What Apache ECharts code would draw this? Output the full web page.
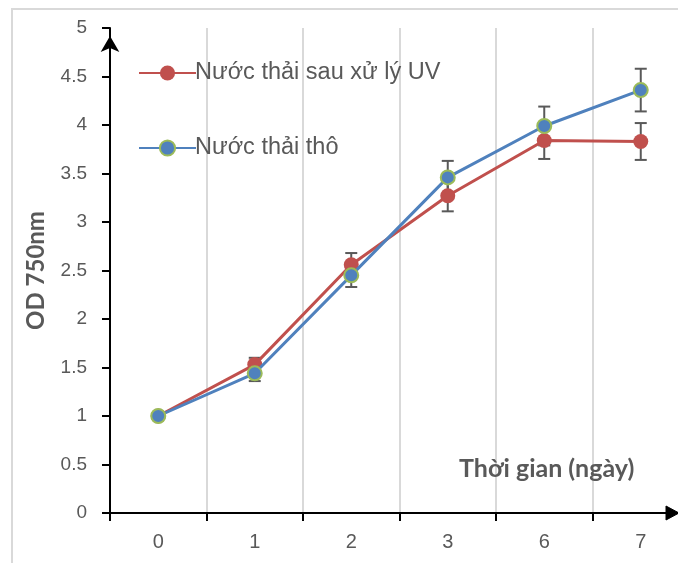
<!DOCTYPE html>
<html>
<head>
<meta charset="utf-8">
<script src="https://cdn.jsdelivr.net/npm/echarts@6/dist/echarts.min.js"></script>
<style>html,body{margin:0;padding:0;background:#fff;overflow:hidden;width:678px;height:563px;}#c{width:690px;height:563px;}</style>
</head>
<body>
<div id="c"></div>
<script>
const categories = ['0', '1', '2', '3', '6', '7'];
const uvName = 'Nước thải sau xử lý UV';
const rawName = 'Nước thải thô';
const uvValues = [1.00, 1.53, 2.56, 3.27, 3.84, 3.83];
const uvErrors = [0, 0.07, 0.12, 0.16, 0.19, 0.19];
const rawValues = [1.00, 1.44, 2.45, 3.46, 3.99, 4.36];
const rawErrors = [0, 0.08, 0.12, 0.17, 0.20, 0.22];
const yMin = 0, yMax = 5, yStep = 0.5;
const yTitle = 'OD 750nm';
const xTitle = 'Thời gian (ngày)';

const FONT = "'Liberation Sans', Arial, sans-serif";
const BOLD = "Lato, 'Open Sans', 'Noto Sans', sans-serif";
const GRAY = '#595959';
const RED = '#c0504d';
const BLUE = '#4f81bd';
const VIEW_W = 678;

function errSeries(name, vals, errs, z) {
  return {
    type: 'custom',
    name: name + ' err',
    z: z,
    silent: true,
    encode: { x: 0, y: 1 },
    data: vals.map((v, i) => [i, v, errs[i]]),
    renderItem: function (params, api) {
      const i = api.value(0), v = api.value(1), e = api.value(2);
      if (!e) return { type: 'group', children: [] };
      const t = api.coord([i, v + e]);
      const b = api.coord([i, v - e]);
      const hw = 6;
      const st = { stroke: GRAY, lineWidth: 2 };
      return {
        type: 'group',
        children: [
          { type: 'line', shape: { x1: t[0], y1: t[1], x2: b[0], y2: b[1] }, style: st },
          { type: 'line', shape: { x1: t[0] - hw, y1: t[1], x2: t[0] + hw, y2: t[1] }, style: st },
          { type: 'line', shape: { x1: b[0] - hw, y1: b[1], x2: b[0] + hw, y2: b[1] }, style: st }
        ]
      };
    }
  };
}

const chart = echarts.init(document.getElementById('c'), null, { renderer: 'canvas' });
chart.setOption({
  animation: false,
  backgroundColor: '#fff',
  grid: { left: 110, top: 28, width: 579, bottom: 50, containLabel: false },
  legend: {
    orient: 'vertical',
    left: 133,
    top: 54,
    itemWidth: 57,
    itemHeight: 19,
    itemGap: 47,
    data: [uvName, rawName],
    textStyle: { fontFamily: FONT, fontSize: 23.5, color: GRAY, lineHeight: 28, padding: [0, 0, 0, -6] }
  },
  xAxis: {
    type: 'category',
    data: categories,
    boundaryGap: true,
    axisLine: { lineStyle: { color: '#000', width: 2 } },
    axisTick: { show: true, length: 8, lineStyle: { color: '#000', width: 2 } },
    axisLabel: { fontFamily: FONT, fontSize: 20, color: GRAY, margin: 19 },
    splitLine: { show: true, lineStyle: { color: '#d9d9d9', width: 2 } }
  },
  yAxis: {
    type: 'value',
    min: yMin, max: yMax, interval: yStep,
    name: yTitle,
    nameLocation: 'middle',
    nameGap: 62,
    nameRotate: 90,
    nameTextStyle: { fontFamily: BOLD, fontWeight: 'bold', fontSize: 24, color: GRAY },
    axisLine: { show: true, lineStyle: { color: '#000', width: 2 }, symbol: ['none', 'arrow'], symbolSize: [14, 16], symbolOffset: [0, -8] },
    axisTick: { show: true, length: 8, lineStyle: { color: '#000', width: 2 } },
    axisLabel: { fontFamily: FONT, fontSize: 19, color: GRAY, margin: 23 },
    splitLine: { show: false }
  },
  title: {
    text: xTitle,
    left: 459,
    top: 456,
    padding: 0,
    textStyle: { fontFamily: BOLD, fontWeight: 'bold', fontSize: 25, color: GRAY }
  },
  series: [
    errSeries(uvName, uvValues, uvErrors, 1),
    errSeries(rawName, rawValues, rawErrors, 1),
    {
      name: uvName,
      type: 'line',
      z: 3,
      data: uvValues,
      symbol: 'circle',
      symbolSize: 15,
      lineStyle: { color: RED, width: 3 },
      itemStyle: { color: RED, borderWidth: 0 }
    },
    {
      name: rawName,
      type: 'line',
      z: 4,
      data: rawValues,
      symbol: 'circle',
      symbolSize: 14,
      lineStyle: { color: BLUE, width: 3 },
      itemStyle: { color: BLUE, borderColor: '#9bbb59', borderWidth: 2 }
    }
  ]
});

let y0 = chart.convertToPixel({ yAxisIndex: 0 }, 0);
if (!isFinite(y0)) y0 = 513;
chart.setOption({
  graphic: {
    elements: [
      { type: 'rect', id: 'frame', z: -10, silent: true, shape: { x: 12, y: 9, width: 700, height: 600 }, style: { fill: 'none', stroke: '#d9d9d9', lineWidth: 2 } },
      { type: 'polygon', id: 'xarrow', z: 100, silent: true, shape: { points: [[VIEW_W - 12, y0 - 7], [VIEW_W + 1, y0], [VIEW_W - 12, y0 + 7]] }, style: { fill: '#000', stroke: '#000', lineWidth: 1 } }
    ]
  }
});
</script>
</body>
</html>
